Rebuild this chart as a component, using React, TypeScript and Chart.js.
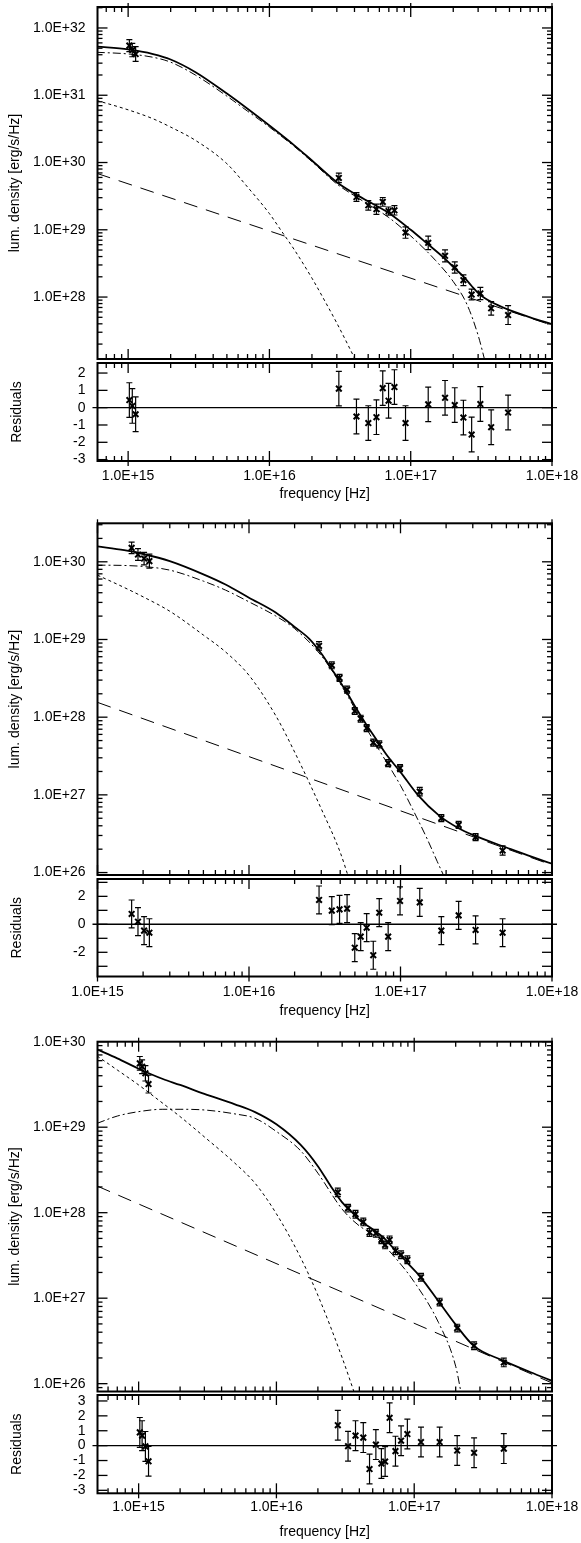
import React, { useEffect, useRef } from "react";
import { Chart, registerables } from "chart.js";

Chart.register(...registerables);

const FONT = '"Liberation Sans", Arial, Helvetica, sans-serif';

// ---------------- shared tick labels ----------------
const freqTicks = [1e15, 1e16, 1e17, 1e18];

// ---------------- Panel 1 ----------------
const p1XRange = [6.07e14, 1e18];
const p1LumRange = [1.2e27, 2.05e32];
const p1ResRange = [-3.08, 2.58];
const p1LumTicks = [1e28, 1e29, 1e30, 1e31, 1e32];
const p1ResTicks = [-3, -2, -1, 0, 1, 2];
const p1ResMarks = [-3, -2, -1, 0, 1, 2];

const p1Freq = [1.02e15, 1.07e15, 1.13e15, 3.1e16, 4.13e16, 5.01e16, 5.72e16, 6.34e16, 6.97e16, 7.67e16, 9.19e16, 1.33e17, 1.75e17, 2.05e17, 2.36e17, 2.7e17, 3.11e17, 3.71e17, 4.89e17];
const p1Lum = [5.47e31, 4.7e31, 4.1e31, 5.9e29, 3.07e29, 2.31e29, 2.02e29, 2.6e29, 1.9e29, 1.95e29, 9.1e28, 6.4e28, 4.1e28, 2.75e28, 1.78e28, 1.09e28, 1.13e28, 6.8e27, 5.4e27];
const p1ErrDex = [0.09, 0.1, 0.11, 0.07, 0.065, 0.07, 0.075, 0.065, 0.06, 0.07, 0.085, 0.1, 0.09, 0.085, 0.08, 0.08, 0.09, 0.1, 0.14];
const p1Resid = [0.44, 0.1, -0.38, 1.1, -0.51, -0.89, -0.55, 1.13, 0.4, 1.19, -0.89, 0.19, 0.57, 0.15, -0.57, -1.55, 0.21, -1.13, -0.28];

const p1TotalFreq = [6.0e14, 1e15, 1.5e15, 2e15, 3e15, 5e15, 7e15, 1e16, 1.5e16, 2e16, 3e16, 4e16, 5e16, 6e16, 7e16, 1e17, 1.3e17, 1.75e17, 2.05e17, 2.4e17, 2.7e17, 3.1e17, 3.7e17, 4.9e17, 7e17, 1e18];
const p1TotalLum = [5.3e31, 4.8e31, 4.1e31, 3.4e31, 2.2e31, 1.06e31, 6.3e30, 3.55e30, 1.8e30, 1.07e30, 5.1e29, 3.45e29, 2.65e29, 2.15e29, 1.78e29, 1.0e29, 6.3e28, 3.7e28, 2.67e28, 1.95e28, 1.46e28, 1.08e28, 8.5e27, 6.5e27, 5.0e27, 3.95e27];
const p1DiskFreq = [6.0e14, 1e15, 1.5e15, 2e15, 3e15, 5e15, 7e15, 1e16, 1.5e16, 2e16, 3e16, 4e16, 5e16, 7e16, 1e17, 1.5e17, 2e17, 2.5e17, 3e17, 3.4e17];
const p1DiskLum = [4.35e31, 4.11e31, 3.67e31, 3.1e31, 1.99e31, 9.7e30, 5.8e30, 3.36e30, 1.73e30, 1.03e30, 4.8e29, 3.2e29, 2.39e29, 1.52e29, 8.1e28, 3.5e28, 1.7e28, 7.8e27, 2.7e27, 1.0e27];
const p1SoftFreq = [6.0e14, 1e15, 1.5e15, 2e15, 3e15, 5e15, 7e15, 1e16, 1.2e16, 1.5e16, 2e16, 2.5e16, 3e16, 3.75e16, 4.1e16];
const p1SoftLum = [8.36e30, 6.07e30, 4.47e30, 3.36e30, 2.13e30, 9.6e29, 4.32e29, 1.74e29, 1.0e29, 5.06e28, 1.91e28, 8.3e27, 4.1e27, 1.63e27, 1.11e27];
const p1PowFreq = [6.0e14, 1e18];
const p1PowLum = [6.9e29, 3.8e27];

// ---------------- Panel 2 ----------------
const p2XRange = [1e15, 1e18];
const p2LumRange = [9.3e25, 3.13e30];
const p2ResRange = [-3.73, 3.24];
const p2LumTicks = [1e26, 1e27, 1e28, 1e29, 1e30];
const p2ResTicks = [-2, 0, 2];
const p2ResMarks = [-3, -2, -1, 0, 1, 2, 3];

const p2Freq = [1.68e15, 1.85e15, 2.03e15, 2.2e15, 2.9e16, 3.52e16, 3.96e16, 4.44e16, 4.99e16, 5.46e16, 5.98e16, 6.61e16, 7.24e16, 8.29e16, 9.93e16, 1.34e17, 1.86e17, 2.42e17, 3.13e17, 4.72e17];
const p2Lum = [1.51e30, 1.24e30, 1.1e30, 1.02e30, 8.26e28, 4.66e28, 3.2e28, 2.26e28, 1.2e28, 9.55e27, 7.24e27, 4.69e27, 4.46e27, 2.56e27, 2.21e27, 1.1e27, 5.01e26, 4.11e26, 2.85e26, 1.92e26];
const p2ErrDex = [0.075, 0.075, 0.08, 0.09, 0.055, 0.045, 0.045, 0.045, 0.045, 0.045, 0.045, 0.045, 0.045, 0.045, 0.045, 0.055, 0.045, 0.045, 0.045, 0.06];
const p2Resid = [0.74, 0.19, -0.45, -0.6, 1.74, 0.98, 1.07, 1.12, -1.67, -0.88, -0.24, -2.21, 0.83, -0.88, 1.67, 1.57, -0.45, 0.64, -0.4, -0.6];

const p2TotalFreq = [1e15, 1.5e15, 2e15, 3e15, 5e15, 7e15, 1e16, 1.5e16, 2e16, 2.5e16, 3e16, 3.5e16, 4e16, 4.5e16, 5e16, 6e16, 7e16, 8e16, 1e17, 1.3e17, 1.8e17, 2.4e17, 3e17, 5e17, 7e17, 1e18];
const p2TotalLum = [1.58e30, 1.41e30, 1.26e30, 1.02e30, 6.9e29, 5.1e29, 3.45e29, 2.22e29, 1.45e29, 1.02e29, 6.6e28, 4.21e28, 2.84e28, 1.97e28, 1.38e28, 7.84e27, 5.02e27, 3.38e27, 1.96e27, 1.0e27, 5.4e26, 3.75e26, 3.05e26, 2.1e26, 1.65e26, 1.3e26];
const p2DiskFreq = [1e15, 1.5e15, 2e15, 3e15, 5e15, 7e15, 1e16, 1.5e16, 2e16, 3e16, 4e16, 5e16, 7e16, 1e17, 1.2e17, 1.5e17, 1.75e17, 1.95e17];
const p2DiskLum = [9.06e29, 8.97e29, 8.71e29, 7.81e29, 5.64e29, 4.32e29, 3.05e29, 2.01e29, 1.38e29, 6.2e28, 2.7e28, 1.29e28, 4.19e27, 1.32e27, 6.6e26, 2.71e26, 1.38e26, 8.7e25];
const p2SoftFreq = [1e15, 1.5e15, 2e15, 3e15, 5e15, 7e15, 1e16, 1.5e16, 2e16, 3e16, 4e16, 4.6e16];
const p2SoftLum = [6.73e29, 4.67e29, 3.54e29, 2.31e29, 1.14e29, 6.92e28, 3.46e28, 1.05e28, 3.56e27, 6.6e26, 1.82e26, 8.0e25];
const p2PowFreq = [1e15, 1e18];
const p2PowLum = [1.55e28, 1.25e26];

// ---------------- Panel 3 ----------------
const p3XRange = [5.03e14, 1e18];
const p3LumRange = [8.1e25, 1e30];
const p3ResRange = [-3.2, 3.4];
const p3LumTicks = [1e26, 1e27, 1e28, 1e29, 1e30];
const p3ResTicks = [-3, -2, -1, 0, 1, 2, 3];
const p3ResMarks = [-3, -2, -1, 0, 1, 2, 3];

const p3Freq = [1.02e15, 1.06e15, 1.12e15, 1.18e15, 2.79e16, 3.31e16, 3.75e16, 4.27e16, 4.74e16, 5.27e16, 5.78e16, 6.15e16, 6.63e16, 7.31e16, 8.03e16, 8.92e16, 1.12e17, 1.53e17, 2.05e17, 2.72e17, 4.47e17];
const p3Lum = [5.58e29, 5.1e29, 4.27e29, 3.2e29, 1.73e28, 1.13e28, 9.6e27, 7.8e27, 5.86e27, 5.75e27, 4.81e27, 4.2e27, 4.81e27, 3.58e27, 3.22e27, 2.81e27, 1.76e27, 9.0e26, 4.47e26, 2.78e26, 1.77e26];
const p3ErrDex = [0.08, 0.08, 0.09, 0.105, 0.05, 0.045, 0.045, 0.045, 0.045, 0.045, 0.045, 0.045, 0.045, 0.045, 0.045, 0.045, 0.045, 0.045, 0.045, 0.045, 0.05];
const p3Resid = [0.89, 0.67, -0.05, -1.05, 1.37, -0.04, 0.67, 0.54, -1.57, 0.07, -1.2, -1.07, 1.87, -0.37, 0.33, 0.78, 0.24, 0.24, -0.33, -0.48, -0.2];

const p3TotalFreq = [5e14, 7e14, 1e15, 1.5e15, 2e15, 3e15, 5e15, 7e15, 1e16, 1.5e16, 2e16, 2.5e16, 3e16, 3.5e16, 4e16, 5e16, 6e16, 7e16, 8e16, 9e16, 1.1e17, 1.5e17, 2e17, 2.72e17, 4.47e17, 7e17, 1e18];
const p3TotalLum = [8.13e29, 6.38e29, 4.83e29, 3.66e29, 3.12e29, 2.45e29, 1.85e29, 1.5e29, 1.08e29, 6.2e28, 3.5e28, 2.0e28, 1.32e28, 1.03e28, 8.2e27, 6.4e27, 5.1e27, 3.9e27, 3.15e27, 2.55e27, 1.8e27, 9.2e26, 4.9e26, 2.75e26, 1.85e26, 1.36e26, 1.08e26];
const p3DiskFreq = [5e14, 7e14, 1e15, 1.5e15, 2e15, 3e15, 5e15, 7e15, 1e16, 1.5e16, 2e16, 3e16, 4e16, 5e16, 7e16, 1e17, 1.5e17, 2e17, 2.2e17];
const p3DiskLum = [1.11e29, 1.35e29, 1.52e29, 1.62e29, 1.62e29, 1.59e29, 1.43e29, 1.27e29, 8.9e28, 5.3e28, 2.9e28, 1.1e28, 7.0e27, 5.6e27, 3.2e27, 1.55e27, 5.2e26, 1.6e26, 7.5e25];
const p3SoftFreq = [5e14, 7e14, 1e15, 1.5e15, 2e15, 3e15, 5e15, 7e15, 1e16, 1.5e16, 2e16, 3e16, 3.8e16];
const p3SoftLum = [6.8e29, 4.67e29, 3.12e29, 1.9e29, 1.33e29, 7.7e28, 3.79e28, 2.21e28, 9.7e27, 2.97e27, 1.08e27, 2.01e26, 6.7e25];
const p3PowFreq = [5e14, 1e18];
const p3PowLum = [2.05e28, 1.02e26];

// ---------------- layout (page pixels) ----------------
const CANVAS_W = 581;
const AREA_LEFT = 97.5;
const AREA_RIGHT = 552;

const PANELS: any[] = [
  {
    geo: { mainTop: 7, mainBottom: 359, resTop: 360, resBottom: 461, labelY: 476, titleY: 494 },
    xRange: p1XRange, lumRange: p1LumRange, resRange: p1ResRange, lumTicks: p1LumTicks, resTicks: p1ResTicks, resMarks: p1ResMarks,
    freq: p1Freq, lum: p1Lum, err: p1ErrDex, resid: p1Resid,
    total: [p1TotalFreq, p1TotalLum], disk: [p1DiskFreq, p1DiskLum], soft: [p1SoftFreq, p1SoftLum], pow: [p1PowFreq, p1PowLum],
  },
  {
    geo: { mainTop: 523.3, mainBottom: 875, resTop: 876, resBottom: 976.5, labelY: 991.7, titleY: 1011 },
    xRange: p2XRange, lumRange: p2LumRange, resRange: p2ResRange, lumTicks: p2LumTicks, resTicks: p2ResTicks, resMarks: p2ResMarks,
    freq: p2Freq, lum: p2Lum, err: p2ErrDex, resid: p2Resid,
    total: [p2TotalFreq, p2TotalLum], disk: [p2DiskFreq, p2DiskLum], soft: [p2SoftFreq, p2SoftLum], pow: [p2PowFreq, p2PowLum],
  },
  {
    geo: { mainTop: 1041.7, mainBottom: 1391.5, resTop: 1392.5, resBottom: 1493.3, labelY: 1507, titleY: 1532 },
    xRange: p3XRange, lumRange: p3LumRange, resRange: p3ResRange, lumTicks: p3LumTicks, resTicks: p3ResTicks, resMarks: p3ResMarks,
    freq: p3Freq, lum: p3Lum, err: p3ErrDex, resid: p3Resid,
    total: [p3TotalFreq, p3TotalLum], disk: [p3DiskFreq, p3DiskLum], soft: [p3SoftFreq, p3SoftLum], pow: [p3PowFreq, p3PowLum],
  },
];

// ---------------- helpers ----------------
const fmtExp = (v: number) => `1.0E+${Math.round(Math.log10(v))}`;

const zip = (xs: number[], ys: number[]) => xs.map((x, i) => ({ x, y: ys[i] }));

function logTickList(min: number, max: number) {
  const out: { v: number; major: boolean }[] = [];
  const e0 = Math.floor(Math.log10(min));
  const e1 = Math.ceil(Math.log10(max));
  for (let e = e0; e <= e1; e++) {
    for (let m = 1; m <= 9; m++) {
      const v = m * Math.pow(10, e);
      if (v >= min * 0.9999 && v <= max * 1.0001) out.push({ v, major: m === 1 });
    }
  }
  return out;
}

const errorBarPlugin = {
  id: "errorBars",
  afterDatasetsDraw(chart: any) {
    const { ctx, chartArea: a } = chart;
    const ys = chart.scales.y;
    ctx.save();
    ctx.beginPath();
    ctx.rect(a.left, a.top, a.right - a.left, a.bottom - a.top);
    ctx.clip();
    ctx.setLineDash([]);
    ctx.strokeStyle = "#000";
    ctx.lineWidth = 1.2;
    chart.data.datasets.forEach((ds: any, i: number) => {
      if (!ds.errLo) return;
      const meta = chart.getDatasetMeta(i);
      meta.data.forEach((el: any, j: number) => {
        const x = el.x;
        const y1 = ys.getPixelForValue(ds.errLo[j]);
        const y2 = ys.getPixelForValue(ds.errHi[j]);
        ctx.beginPath();
        ctx.moveTo(x, y1);
        ctx.lineTo(x, y2);
        ctx.moveTo(x - 3, y1);
        ctx.lineTo(x + 3, y1);
        ctx.moveTo(x - 3, y2);
        ctx.lineTo(x + 3, y2);
        ctx.stroke();
      });
    });
    ctx.restore();
  },
};

function framePlugin(opts: { yLog: boolean; yMarks?: number[]; topOut: number; bottomOut: number; zero: boolean }) {
  return {
    id: "frameTicks",
    beforeDatasetsDraw(chart: any) {
      if (!opts.zero) return;
      const { ctx, chartArea: a } = chart;
      const y0 = chart.scales.y.getPixelForValue(0);
      ctx.save();
      ctx.setLineDash([]);
      ctx.strokeStyle = "#000";
      ctx.lineWidth = 1.4;
      ctx.beginPath();
      ctx.moveTo(a.left - 5, y0);
      ctx.lineTo(a.right + 5, y0);
      ctx.stroke();
      ctx.restore();
    },
    afterDraw(chart: any) {
      const { ctx, chartArea: a } = chart;
      const xs = chart.scales.x;
      const ys = chart.scales.y;
      const xMin = xs.options.min;
      const xMax = xs.options.max;
      const segs: number[][] = [];
      for (const t of logTickList(xMin, xMax)) {
        const px = xs.getPixelForValue(t.v);
        const len = t.major ? 10 : 5;
        segs.push([px, a.top - (t.major ? opts.topOut : 0), px, a.top + len]);
        segs.push([px, a.bottom + (t.major ? opts.bottomOut : 0), px, a.bottom - len]);
      }
      const yt = opts.yLog
        ? logTickList(ys.options.min, ys.options.max)
        : (opts.yMarks || []).map((v) => ({ v, major: true }));
      for (const t of yt) {
        const py = ys.getPixelForValue(t.v);
        const len = t.major ? 10 : 5;
        segs.push([a.left, py, a.left + len, py]);
        segs.push([a.right, py, a.right - len, py]);
      }
      ctx.save();
      ctx.setLineDash([]);
      ctx.globalAlpha = 1;
      ctx.strokeStyle = "#000";
      ctx.lineWidth = 1.3;
      ctx.lineCap = "butt";
      for (const s of segs) {
        ctx.beginPath();
        ctx.moveTo(s[0], s[1]);
        ctx.lineTo(s[2], s[3]);
        ctx.stroke();
      }
      ctx.lineWidth = 2;
      ctx.strokeRect(a.left, a.top, a.right - a.left, a.bottom - a.top);
      ctx.restore();
    },
  };
}

function curve(pts: number[][], width: number, dash: number[]) {
  return {
    data: zip(pts[0], pts[1]),
    showLine: true,
    borderColor: "#000",
    borderWidth: width,
    borderDash: dash,
    pointRadius: 0,
    fill: false,
    cubicInterpolationMode: "monotone",
  };
}

function mainLayout(g: any) {
  const canvasTop = Math.max(0, Math.floor(g.mainTop - 9));
  const bottomEdge = Math.ceil(g.mainBottom + 12);
  return {
    canvasTop,
    height: bottomEdge - canvasTop,
    padTop: g.mainTop - canvasTop,
    padBottom: bottomEdge - g.mainBottom,
  };
}

function resLayout(g: any) {
  const canvasTop = Math.floor(g.resTop - 3);
  const bottomEdge = Math.ceil(g.titleY + 14);
  return {
    canvasTop,
    height: bottomEdge - canvasTop,
    padTop: g.resTop - canvasTop,
    xH: bottomEdge - g.resBottom,
    tickPad: g.labelY - g.resBottom - 8.4,
    titlePad: bottomEdge - 8.4 - g.titleY,
  };
}

const tickFont = { size: 14, family: FONT };

function yAxisCommon(title: string, titlePadTop: number) {
  return {
    position: "left",
    bounds: "data",
    grid: { display: false, drawTicks: false },
    border: { display: false },
    title: { display: true, text: title, color: "#000", font: tickFont, padding: { top: titlePadTop, bottom: 0 } },
    afterFit: (s: any) => {
      s.width = AREA_LEFT;
      s.paddingTop = 0;
      s.paddingBottom = 0;
    },
  };
}

function mainConfig(p: any, L: any) {
  const points = p.freq.map((f: number, i: number) => ({ x: f, y: p.lum[i] }));
  return {
    type: "scatter",
    data: {
      datasets: [
        curve(p.pow, 1, [14, 9]),
        curve(p.soft, 1, [3, 3]),
        curve(p.disk, 1, [8, 3, 2, 3]),
        curve(p.total, 1.8, []),
        {
          data: points,
          pointStyle: "crossRot",
          pointRadius: 4,
          pointBorderWidth: 2,
          borderColor: "#000",
          pointBorderColor: "#000",
          backgroundColor: "#000",
          errLo: p.lum.map((v: number, i: number) => v / Math.pow(10, p.err[i])),
          errHi: p.lum.map((v: number, i: number) => v * Math.pow(10, p.err[i])),
        },
      ],
    },
    options: {
      responsive: false,
      animation: false,
      devicePixelRatio: 1,
      events: [],
      layout: { padding: { left: 0, right: CANVAS_W - AREA_RIGHT, top: L.padTop, bottom: L.padBottom } },
      plugins: { legend: { display: false }, tooltip: { enabled: false } },
      scales: {
        x: { type: "logarithmic", display: false, bounds: "data", min: p.xRange[0], max: p.xRange[1] },
        y: {
          type: "logarithmic",
          min: p.lumRange[0],
          max: p.lumRange[1],
          ...yAxisCommon("lum. density [erg/s/Hz]", 7.1),
          ticks: { autoSkip: false, padding: 12, color: "#000", font: tickFont, callback: (v: any) => fmtExp(Number(v)) },
          afterBuildTicks: (s: any) => {
            s.ticks = p.lumTicks.map((v: number) => ({ value: v }));
          },
        },
      },
    },
    plugins: [errorBarPlugin, framePlugin({ yLog: true, topOut: 4, bottomOut: 0, zero: false })],
  };
}

function resConfig(p: any, L: any) {
  const points = p.freq.map((f: number, i: number) => ({ x: f, y: p.resid[i] }));
  return {
    type: "scatter",
    data: {
      datasets: [
        {
          data: points,
          pointStyle: "crossRot",
          pointRadius: 4,
          pointBorderWidth: 2,
          borderColor: "#000",
          pointBorderColor: "#000",
          backgroundColor: "#000",
          errLo: p.resid.map((v: number) => v - 1),
          errHi: p.resid.map((v: number) => v + 1),
        },
      ],
    },
    options: {
      responsive: false,
      animation: false,
      devicePixelRatio: 1,
      events: [],
      layout: { padding: { left: 0, right: CANVAS_W - AREA_RIGHT, top: L.padTop, bottom: 0 } },
      plugins: { legend: { display: false }, tooltip: { enabled: false } },
      scales: {
        x: {
          type: "logarithmic",
          position: "bottom",
          bounds: "data",
          min: p.xRange[0],
          max: p.xRange[1],
          grid: { display: false, drawTicks: false },
          border: { display: false },
          ticks: {
            autoSkip: false,
            maxRotation: 0,
            minRotation: 0,
            padding: L.tickPad,
            color: "#000",
            font: tickFont,
            callback: (v: any) => fmtExp(Number(v)),
          },
          afterBuildTicks: (s: any) => {
            s.ticks = freqTicks
              .filter((v) => v >= p.xRange[0] * 0.999 && v <= p.xRange[1] * 1.001)
              .map((v) => ({ value: v }));
          },
          afterFit: (s: any) => {
            s.height = L.xH;
            s.paddingLeft = 0;
            s.paddingRight = 0;
          },
          title: { display: true, text: "frequency [Hz]", color: "#000", font: tickFont, padding: { top: 0, bottom: L.titlePad } },
        },
        y: {
          type: "linear",
          min: p.resRange[0],
          max: p.resRange[1],
          ...yAxisCommon("Residuals", 8.3),
          ticks: { autoSkip: false, padding: 12, color: "#000", font: tickFont, callback: (v: any) => String(v) },
          afterBuildTicks: (s: any) => {
            s.ticks = p.resTicks.map((v: number) => ({ value: v }));
          },
        },
      },
    },
    plugins: [errorBarPlugin, framePlugin({ yLog: false, yMarks: p.resMarks, topOut: 0, bottomOut: 5, zero: true })],
  };
}

function ChartCanvas({ top, height, makeConfig }: { top: number; height: number; makeConfig: () => any }) {
  const ref = useRef<HTMLCanvasElement | null>(null);
  useEffect(() => {
    if (!ref.current) return;
    const chart = new Chart(ref.current, makeConfig());
    return () => chart.destroy();
  }, []);
  return (
    <canvas
      ref={ref}
      width={CANVAS_W}
      height={height}
      style={{ position: "absolute", left: 0, top, width: CANVAS_W, height, display: "block" }}
    />
  );
}

export default function App() {
  return (
    <div style={{ position: "absolute", left: 0, top: 0, width: CANVAS_W, height: 1543, background: "#fff", overflow: "hidden" }}>
      {PANELS.map((p, i) => {
        const m = mainLayout(p.geo);
        const r = resLayout(p.geo);
        return (
          <React.Fragment key={i}>
            <ChartCanvas top={m.canvasTop} height={m.height} makeConfig={() => mainConfig(p, m)} />
            <ChartCanvas top={r.canvasTop} height={r.height} makeConfig={() => resConfig(p, r)} />
          </React.Fragment>
        );
      })}
    </div>
  );
}
